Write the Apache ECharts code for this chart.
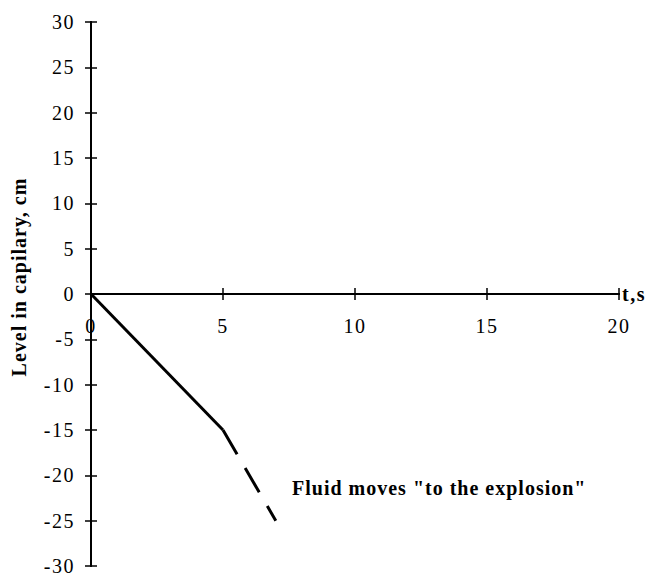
<!DOCTYPE html>
<html>
<head>
<meta charset="utf-8">
<style>
  html, body { margin: 0; padding: 0; background: #fff; }
  #chart { width: 647px; height: 573px; }
</style>
<script src="https://cdn.jsdelivr.net/npm/echarts@6/dist/echarts.min.js"></script>
</head>
<body>
<div id="chart"></div>
<script>
// Measured level in the capillary over time (solid part)
const timeValues = [0, 5];
const levelValues = [0, -15];
// Continuation of the trend: fluid moves towards the explosion (dashed part)
const timeExtension = [5, 7];
const levelExtension = [-15, -25];

const xTicks = { min: 0, max: 20, interval: 5 };
const yTicks = { min: -30, max: 30, interval: 5 };

const serif = "'Liberation Serif', 'Times New Roman', serif";

function pairs(xs, ys) {
  return xs.map((x, i) => [x, ys[i]]);
}

const W = 647, H = 573;
const gridBox = { left: 91, right: 28, top: 22, bottom: 7 };
// The time axis runs through level 0: shift it up from the grid's bottom edge.
const gridHeight = H - gridBox.top - gridBox.bottom;
const zeroOffset = -gridHeight * (0 - yTicks.min) / (yTicks.max - yTicks.min);

const chart = echarts.init(document.getElementById('chart'), null, { renderer: 'svg' });

const axisLineStyle = { color: '#000', width: 2 };
const tickStyle = { color: '#000', width: 1.5 };

// Two overlapping axes per direction: one with outward ticks, one with inward
// ticks, so every tick mark crosses the axis line.
function xAxisDef(inside) {
  return {
    type: 'value',
    position: 'bottom',
    offset: zeroOffset,
    min: xTicks.min, max: xTicks.max, interval: xTicks.interval,
    axisLine: { show: true, onZero: false, lineStyle: axisLineStyle },
    axisTick: { show: true, inside: inside, length: 6, lineStyle: tickStyle },
    axisLabel: inside ? { show: false } : {
      show: true, margin: 22, color: '#000', fontSize: 20, fontFamily: serif
    },
    splitLine: { show: false },
    name: inside ? '' : 't,s',
    nameLocation: 'end',
    nameGap: 3,
    nameTextStyle: { color: '#000', fontSize: 20, fontWeight: 'bold', fontFamily: serif, verticalAlign: 'middle' }
  };
}

function yAxisDef(inside) {
  return {
    type: 'value',
    position: 'left',
    min: yTicks.min, max: yTicks.max, interval: yTicks.interval,
    axisLine: { show: true, onZero: false, lineStyle: axisLineStyle },
    axisTick: { show: true, inside: inside, length: 6, lineStyle: tickStyle },
    axisLabel: inside ? { show: false } : {
      show: true, margin: 16, color: '#000', fontSize: 20, fontFamily: serif,
      verticalAlign: 'middle', lineHeight: 18, padding: [0, 0, 6, 0]
    },
    splitLine: { show: false }
  };
}

chart.setOption({
  animation: false,
  backgroundColor: '#fff',
  grid: Object.assign({ containLabel: false, outerBoundsMode: 'none' }, gridBox),
  xAxis: [xAxisDef(false), xAxisDef(true)],
  yAxis: [yAxisDef(false), yAxisDef(true)],
  series: [
    {
      type: 'line',
      xAxisIndex: 0, yAxisIndex: 0,
      data: pairs(timeValues, levelValues),
      symbol: 'none',
      lineStyle: { color: '#000', width: 3 },
      z: 5
    },
    {
      type: 'line',
      xAxisIndex: 0, yAxisIndex: 0,
      data: pairs(timeExtension, levelExtension),
      symbol: 'none',
      lineStyle: { color: '#000', width: 3, type: [28, 16] },
      z: 5
    }
  ],
  graphic: [
    {
      type: 'text',
      x: 19, y: 277,
      rotation: Math.PI / 2,
      style: {
        text: 'Level in capilary, cm',
        fill: '#000',
        font: "bold 20px 'Liberation Serif', 'Times New Roman', serif",
        align: 'center',
        verticalAlign: 'middle'
      }
    },
    {
      type: 'text',
      x: 292, y: 488,
      style: {
        text: 'Fluid moves "to the explosion"',
        fill: '#000',
        font: "bold 20px 'Liberation Serif', 'Times New Roman', serif",
        align: 'left',
        verticalAlign: 'middle'
      }
    }
  ]
});

// Slightly wider letter spacing for the text, as in the printed figure.
document.querySelectorAll('#chart svg text').forEach(function (el) {
  const s = el.textContent;
  if (s === 'Fluid moves "to the explosion"' || s === 'Level in capilary, cm') {
    el.setAttribute('letter-spacing', '1');
  } else {
    el.setAttribute('letter-spacing', '1.5');
  }
});
</script>
</body>
</html>
